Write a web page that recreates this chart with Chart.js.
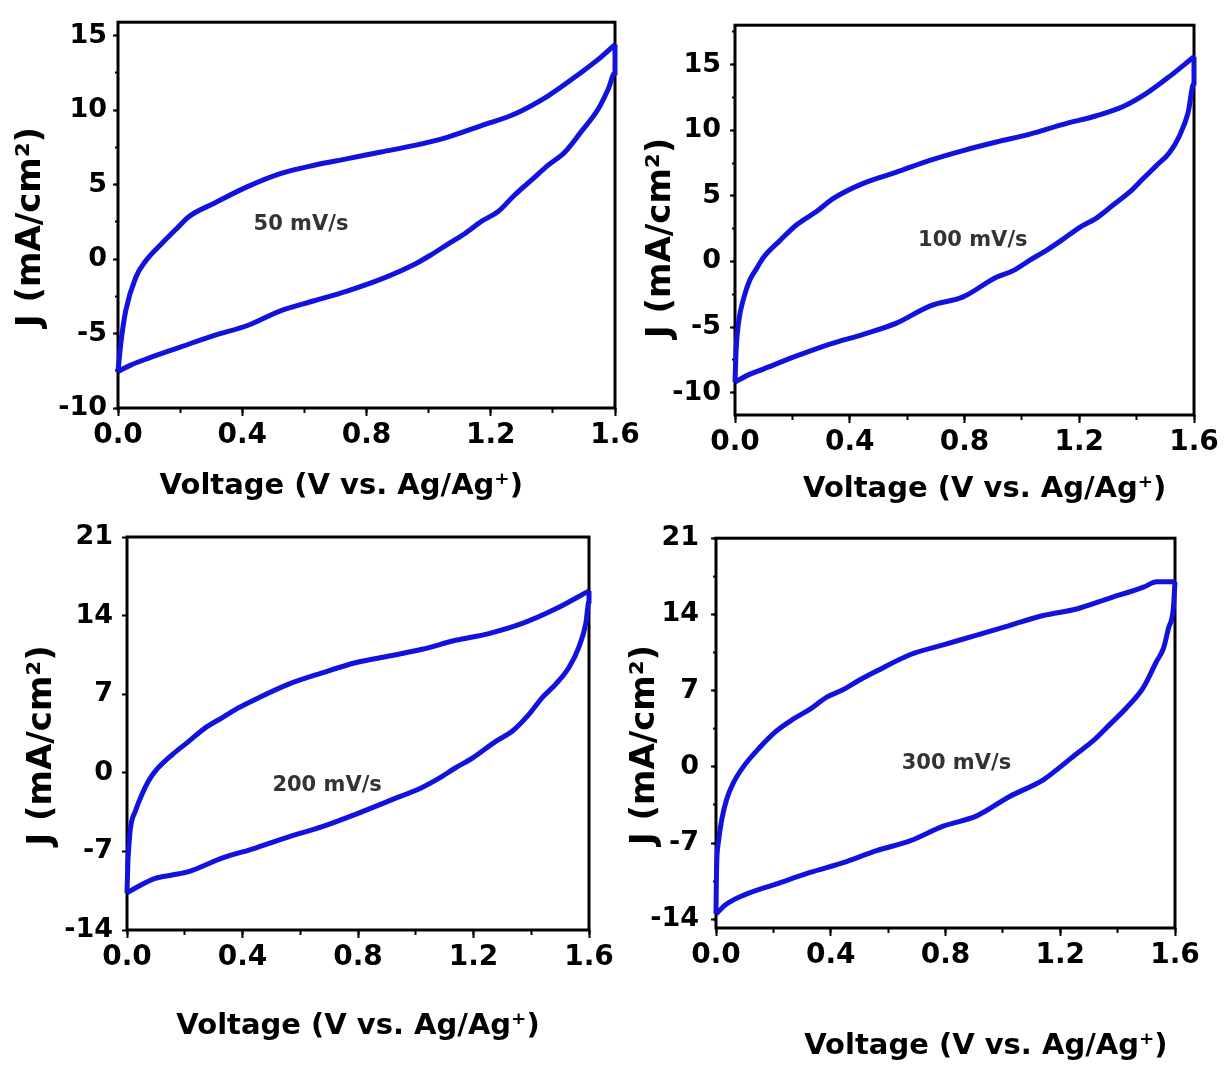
<!DOCTYPE html>
<html>
<head>
<meta charset="utf-8">
<script src="https://cdn.jsdelivr.net/npm/chart.js@4.4.1/dist/chart.umd.min.js"></script>
<style>
  body { margin: 0; background: #fff; }
  #wrap { position: relative; width: 1225px; height: 1070px; overflow: hidden; background: #fff; }
  canvas { position: absolute; }
</style>
</head>
<body>
<div id="wrap">
  <canvas id="cv50"></canvas>
  <canvas id="cv100"></canvas>
  <canvas id="cv200"></canvas>
  <canvas id="cv300"></canvas>
</div>
<script>
// --- data (V vs. Ag/Ag+, J in mA/cm2) ---
const rateLabels = ["50 mV/s", "100 mV/s", "200 mV/s", "300 mV/s"];
const xTitle = "Voltage (V vs. Ag/Ag\u207A)";
const yTitle = "J (mA/cm\u00B2)";

// 50 mV/s
const v50Fwd = [0, 0.009, 0.025, 0.057, 0.089, 0.138, 0.191, 0.229, 0.31, 0.417, 0.525, 0.632, 0.74, 0.847, 0.955, 1.062, 1.17, 1.277, 1.385, 1.49, 1.546, 1.6];
const j50Fwd = [-7.56, -5.68, -3.46, -1.24, -0.13, 0.98, 2.09, 2.86, 3.75, 4.86, 5.75, 6.3, 6.74, 7.19, 7.63, 8.19, 8.96, 9.74, 10.96, 12.51, 13.4, 14.4];
const v50Rev = [1.6, 1.6, 1.578, 1.546, 1.49, 1.439, 1.385, 1.331, 1.277, 1.224, 1.17, 1.116, 1.062, 1.009, 0.955, 0.847, 0.74, 0.632, 0.525, 0.417, 0.31, 0.202, 0.095, 0.041, 0.009, 0];
const j50Rev = [14.4, 12.5, 11.4, 10.07, 8.52, 7.19, 6.3, 5.3, 4.3, 3.19, 2.53, 1.7, 1.0, 0.3, -0.35, -1.35, -2.13, -2.8, -3.46, -4.46, -5.12, -5.9, -6.68, -7.12, -7.45, -7.56];

// 100 mV/s
const v100Fwd = [0, 0.004, 0.012, 0.029, 0.052, 0.075, 0.099, 0.157, 0.215, 0.284, 0.343, 0.447, 0.563, 0.679, 0.795, 0.911, 1.028, 1.144, 1.26, 1.353, 1.434, 1.515, 1.6];
const j100Fwd = [-9.2, -6.7, -4.7, -2.9, -1.4, -0.55, 0.3, 1.6, 2.8, 3.8, 4.8, 5.95, 6.8, 7.7, 8.45, 9.1, 9.7, 10.45, 11.1, 11.8, 12.8, 14.1, 15.6];
const v100Rev = [1.6, 1.6, 1.579, 1.55, 1.515, 1.469, 1.422, 1.376, 1.318, 1.26, 1.202, 1.144, 1.086, 1.028, 0.97, 0.911, 0.795, 0.679, 0.563, 0.447, 0.331, 0.215, 0.099, 0.041, 0];
const j100Rev = [15.6, 13.6, 11.3, 9.6, 8.3, 7.3, 6.3, 5.3, 4.3, 3.3, 2.6, 1.7, 0.85, 0.1, -0.7, -1.2, -2.7, -3.4, -4.7, -5.55, -6.3, -7.2, -8.2, -8.7, -9.2];

// 200 mV/s
const v200Fwd = [0, 0.003, 0.006, 0.012, 0.029, 0.052, 0.075, 0.098, 0.156, 0.214, 0.271, 0.329, 0.387, 0.445, 0.56, 0.676, 0.791, 0.907, 1.022, 1.138, 1.253, 1.369, 1.485, 1.6];
const j200Fwd = [-10.7, -8.0, -6.7, -4.9, -3.4, -1.9, -0.7, 0.15, 1.6, 2.8, 4.0, 4.9, 5.8, 6.55, 7.9, 8.9, 9.8, 10.4, 11.0, 11.8, 12.4, 13.3, 14.6, 16.2];
const v200Rev = [1.6, 1.6, 1.589, 1.565, 1.531, 1.485, 1.438, 1.392, 1.334, 1.277, 1.196, 1.138, 1.08, 1.022, 0.907, 0.791, 0.676, 0.56, 0.445, 0.329, 0.214, 0.156, 0.098, 0.04, 0];
const j200Rev = [16.2, 15.3, 13.3, 11.2, 9.4, 7.9, 6.7, 5.2, 3.7, 2.8, 1.3, 0.45, -0.5, -1.3, -2.5, -3.7, -4.8, -5.7, -6.7, -7.6, -8.8, -9.1, -9.4, -10.1, -10.7];

// 300 mV/s
const v300Fwd = [0, 0.001, 0.003, 0.008, 0.02, 0.037, 0.06, 0.095, 0.153, 0.211, 0.27, 0.328, 0.386, 0.444, 0.502, 0.56, 0.676, 0.792, 0.909, 1.025, 1.141, 1.257, 1.373, 1.49, 1.536, 1.6];
const j300Fwd = [-13.5, -11.0, -8.5, -7.0, -4.85, -3.0, -1.5, 0, 1.8, 3.3, 4.4, 5.3, 6.4, 7.1, 8.0, 8.8, 10.3, 11.2, 12.1, 13.0, 13.9, 14.5, 15.5, 16.5, 17.0, 17.0];
const v300Rev = [1.6, 1.594, 1.577, 1.56, 1.536, 1.49, 1.432, 1.373, 1.315, 1.257, 1.2, 1.141, 1.025, 0.909, 0.792, 0.676, 0.56, 0.444, 0.328, 0.211, 0.095, 0.037, 0];
const j300Rev = [17.0, 14.5, 12.7, 10.9, 9.7, 7.3, 5.45, 3.9, 2.4, 1.2, 0, -1.2, -2.7, -4.5, -5.45, -6.8, -7.7, -8.8, -9.7, -10.75, -11.8, -12.6, -13.5];

// label anchor (V, J) for the scan-rate text
const labelAt = [[0.589, 2.31], [0.829, 1.63], [0.693, -1.12], [0.838, 0.32]];

// axis ranges
const yMins = [-10, -11.7, -14, -14.8];
const yMaxs = [15.9, 18, 21, 21];
const yMajor = [5, 5, 7, 7];
const yMinor = [2.5, 2.5, null, 3.5];

Chart.defaults.font.family = "'DejaVu Sans', sans-serif";
Chart.defaults.font.weight = "bold";
Chart.defaults.color = "#000";

const BLUE = "rgb(18, 18, 222)";
const nb = n => "\u00a0".repeat(n);

function pts(vs, js) {
    return vs.map((v, i) => ({ x: v, y: js[i] }));
}

const framePlugin = {
    id: "frame",
    beforeDatasetsDraw(chart) {
        const { ctx, chartArea: a } = chart;
        ctx.save();
        ctx.lineWidth = 3;
        ctx.strokeStyle = "#000";
        ctx.strokeRect(a.left, a.top, a.right - a.left, a.bottom - a.top);
        ctx.restore();
    }
};

const rateLabel = {
    id: "rateLabel",
    afterDatasetsDraw(chart, args, opts) {
        if (!opts.text) return;
        const { ctx, scales } = chart;
        ctx.save();
        ctx.font = "bold 21px 'DejaVu Sans'";
        ctx.fillStyle = "#333";
        ctx.textAlign = "center";
        ctx.textBaseline = "middle";
        ctx.fillText(opts.text, scales.x.getPixelForValue(opts.at[0]), scales.y.getPixelForValue(opts.at[1]));
        ctx.restore();
    }
};

// canvas box + plot frame (left, top, right, bottom) in page pixels
const panels = [
    { id: "cv50",  x: 0,   y: 0,   w: 645, h: 520, frame: [118, 19, 615, 408], xH: 100, yTickPad: 6,  yTitlePad: 14, xTitlePad: 7,
      xT: xTitle + nb(5), yT: yTitle + nb(2), fwd: [v50Fwd, j50Fwd], rev: [v50Rev, j50Rev] },
    { id: "cv100", x: 620, y: 0,   w: 605, h: 520, frame: [735, 20, 1194, 415], xH: 100, yTickPad: 9,  yTitlePad: 24, xTitlePad: 11,
      xT: nb(4) + xTitle, yT: yTitle + nb(3), fwd: [v100Fwd, j100Fwd], rev: [v100Rev, j100Rev] },
    { id: "cv200", x: 0,   y: 510, w: 620, h: 560, frame: [127, 537, 589, 930], xH: 120, yTickPad: 9,  yTitlePad: 25, xTitlePad: 9,
      xT: xTitle, yT: yTitle + nb(2), fwd: [v200Fwd, j200Fwd], rev: [v200Rev, j200Rev] },
    { id: "cv300", x: 620, y: 510, w: 605, h: 560, frame: [716, 534, 1175, 928], xH: 135, yTickPad: 12, yTitlePad: 8, xTitlePad: 2,
      xT: nb(8) + xTitle, yT: yTitle + nb(2), fwd: [v300Fwd, j300Fwd], rev: [v300Rev, j300Rev] }
];

function renderPanel(p, k) {
    const canvas = document.getElementById(p.id);
    canvas.width = p.w;
    canvas.height = p.h;
    canvas.style.left = p.x + "px";
    canvas.style.top = p.y + "px";

    const [L, T, R, B] = p.frame;
    const yW = L - p.x;

    const scales = {
        x: {
            type: "linear", position: "bottom", min: 0, max: 1.6, weight: 1,
            afterFit: s => { s.height = p.xH; },
            border: { display: false },
            grid: { drawOnChartArea: false, tickLength: 8, tickWidth: 2, tickColor: "#000" },
            ticks: { stepSize: 0.4, autoSkip: false, maxRotation: 0, padding: 3, font: { size: 28 }, callback: v => v.toFixed(1) },
            title: { display: true, text: p.xT, font: { size: 29, lineHeight: 1 }, padding: { top: 0, bottom: p.xTitlePad } }
        },
        xMinor: {
            type: "linear", axis: "x", position: "bottom", min: 0, max: 1.6, weight: 0,
            afterFit: s => { s.height = 0; },
            border: { display: false },
            grid: { drawOnChartArea: false, tickLength: 5, tickWidth: 2, tickColor: "#000" },
            ticks: { stepSize: 0.2, display: false }
        },
        y: {
            type: "linear", position: "left", min: yMins[k], max: yMaxs[k], weight: 1,
            afterFit: s => { s.width = yW; },
            border: { display: false },
            grid: { drawOnChartArea: false, tickLength: 5, tickWidth: 2, tickColor: "#000" },
            ticks: { stepSize: yMajor[k], includeBounds: false, autoSkip: false, padding: p.yTickPad, font: { size: 27 } },
            title: { display: true, text: p.yT, font: { size: 34, lineHeight: 1 }, padding: { top: p.yTitlePad, bottom: 0 } }
        }
    };
    if (yMinor[k]) {
        scales.yMinor = {
            type: "linear", axis: "y", position: "left", min: yMins[k], max: yMaxs[k], weight: 0,
            afterFit: s => { s.width = 0; },
            border: { display: false },
            grid: { drawOnChartArea: false, tickLength: 3, tickWidth: 2, tickColor: "#000" },
            ticks: { stepSize: yMinor[k], includeBounds: false, display: false }
        };
    }

    const line = {
        borderColor: BLUE,
        borderWidth: 5,
        pointRadius: 0,
        showLine: true,
        cubicInterpolationMode: "monotone",
        clip: false
    };

    new Chart(canvas, {
        type: "scatter",
        data: {
            datasets: [
                { ...line, data: pts(p.fwd[0], p.fwd[1]) },
                { ...line, data: pts(p.rev[0], p.rev[1]) }
            ]
        },
        options: {
            responsive: false,
            animation: false,
            events: [],
            layout: { padding: { left: 0, top: T - p.y, right: p.x + p.w - R, bottom: p.y + p.h - B - p.xH } },
            scales: scales,
            plugins: {
                legend: { display: false },
                tooltip: { enabled: false },
                rateLabel: { text: rateLabels[k], at: labelAt[k] }
            }
        },
        plugins: [framePlugin, rateLabel]
    });
}

panels.forEach(renderPanel);
</script>
</body>
</html>
